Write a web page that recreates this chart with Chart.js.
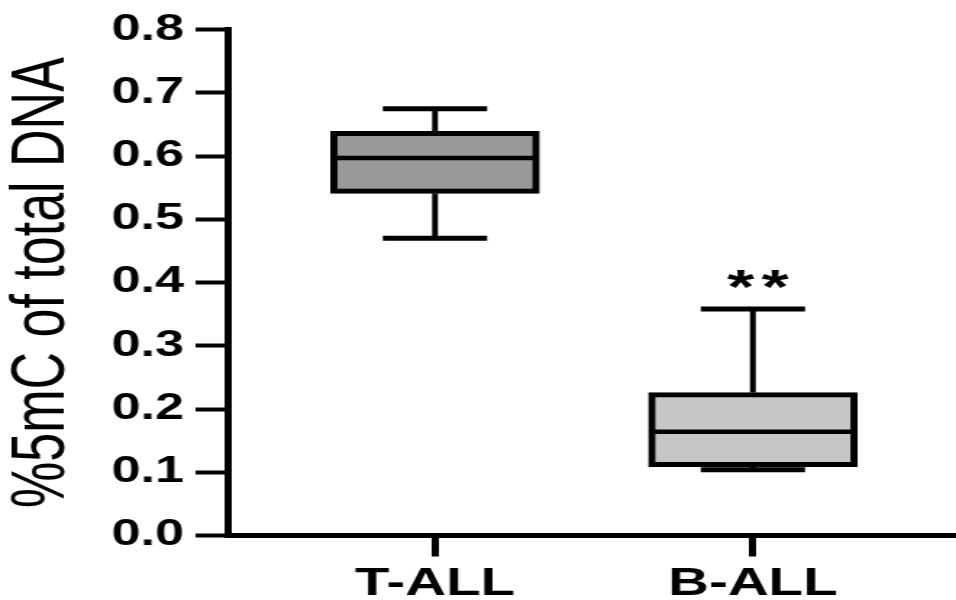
<!DOCTYPE html>
<html><head><meta charset="utf-8">
<script src="https://cdn.jsdelivr.net/npm/chart.js@4.4.1/dist/chart.umd.min.js"></script>
<style>
html,body{margin:0;padding:0;background:#fff;overflow:hidden}
#wrap{width:956px;height:600px;overflow:hidden;position:relative;background:#fff}
#c{position:absolute;left:0;top:0;transform:scaleX(1.44848);transform-origin:0 0}
</style>
</head><body><div id="wrap"><canvas id="c" width="660" height="600"></canvas></div>
<script>
// ---- data ----
const categories = ['T-ALL', 'B-ALL'];
const whiskerMin = [0.470, 0.104];
const q1 = [0.541, 0.109];
const median = [0.597, 0.164];
const q3 = [0.639, 0.226];
const whiskerMax = [0.675, 0.358];
const significance = ['', '**'];
const yTickValues = [0.0, 0.1, 0.2, 0.3, 0.4, 0.5, 0.6, 0.7, 0.8];
const yTickLabels = ['0.0', '0.1', '0.2', '0.3', '0.4', '0.5', '0.6', '0.7', '0.8'];
const yTitle = '%5mC of total DNA';
const boxColors = ['#999999', '#c6c6c9'];

const FONT = '"Liberation Sans", Arial, Helvetica, sans-serif';

function seg(ctx, x1, y1, x2, y2) {
  ctx.beginPath(); ctx.moveTo(x1, y1); ctx.lineTo(x2, y2); ctx.stroke();
}

const boxExtras = {
  id: 'boxExtras',
  afterDatasetsDraw(chart) {
    const { ctx, scales: { x, y } } = chart;
    const bars = chart.getDatasetMeta(0).data;
    ctx.save();
    ctx.strokeStyle = '#000';
    ctx.fillStyle = '#000';
    ctx.lineCap = 'butt';
    categories.forEach((c, i) => {
      const cx = x.getPixelForValue(i + 1);
      const half = bars[i].width / 2;
      const capHalf = half * 0.5;
      const yMax = y.getPixelForValue(whiskerMax[i]);
      const yMin = y.getPixelForValue(whiskerMin[i]);
      const yQ1 = y.getPixelForValue(q1[i]);
      const yQ3 = y.getPixelForValue(q3[i]);
      const yMed = y.getPixelForValue(median[i]);
      ctx.lineWidth = 4;
      seg(ctx, cx, yMax, cx, yQ3);
      seg(ctx, cx, yMin, cx, yQ1);
      ctx.lineWidth = 5;
      seg(ctx, cx - capHalf, yMax, cx + capHalf, yMax);
      seg(ctx, cx - capHalf, yMin, cx + capHalf, yMin);
      ctx.lineWidth = 4.5;
      seg(ctx, cx - half + 2, yMed, cx + half - 2, yMed);
      if (significance[i]) {
        ctx.font = 'bold 48px ' + FONT;
        ctx.letterSpacing = '5px';
        ctx.textAlign = 'left';
        ctx.textBaseline = 'alphabetic';
        const w = ctx.measureText(significance[i]).width - 5;
        ctx.fillText(significance[i], cx + 3.5 - w / 2, yMax - 6);
        ctx.letterSpacing = '0px';
      }
    });
    ctx.restore();
  }
};

new Chart(document.getElementById('c'), {
  type: 'bar',
  data: {
    datasets: [{
      data: categories.map((c, i) => ({ x: i + 1, y: [q1[i], q3[i]] })),
      backgroundColor: boxColors,
      borderColor: '#000',
      borderWidth: 5,
      borderSkipped: false,
      barThickness: 144
    }]
  },
  options: {
    responsive: false,
    animation: false,
    devicePixelRatio: 1,
    layout: { padding: { top: 27, left: 0, right: 0, bottom: 0 } },
    plugins: { legend: { display: false }, tooltip: { enabled: false } },
    scales: {
      x: {
        type: 'linear',
        min: 0.347,
        max: 2.639,
        offset: false,
        afterBuildTicks: (s) => { s.ticks = categories.map((c, i) => ({ value: i + 1 })); },
        afterFit: (s) => { s.height = 64.5; },
        ticks: {
          callback: (v) => categories[Math.round(v) - 1] || '',
          color: '#000',
          padding: 4,
          maxRotation: 0,
          font: { family: FONT, size: 39, weight: 'bold' }
        },
        grid: { drawOnChartArea: false, drawTicks: true, tickLength: 21, tickWidth: 5, tickColor: '#000', offset: false },
        border: { display: true, color: '#000', width: 5 }
      },
      y: {
        type: 'linear',
        min: 0,
        max: 0.8,
        afterBuildTicks: (s) => { s.ticks = yTickValues.map(v => ({ value: v })); },
        afterFit: (s) => { s.width = 157; },
        ticks: {
          callback: (v, idx) => yTickLabels[idx],
          color: '#000',
          padding: 8,
          font: { family: FONT, size: 36, weight: 'bold' }
        },
        grid: { drawOnChartArea: false, drawTicks: true, tickLength: 22, tickWidth: 4, tickColor: '#000' },
        border: { display: true, color: '#000', width: 5 },
        title: {
          display: true,
          text: yTitle,
          color: '#000',
          padding: { top: 4, bottom: 0 },
          font: { family: FONT, size: 52, weight: 'normal', lineHeight: 1 }
        }
      }
    }
  },
  plugins: [boxExtras]
});
</script>
</body></html>
